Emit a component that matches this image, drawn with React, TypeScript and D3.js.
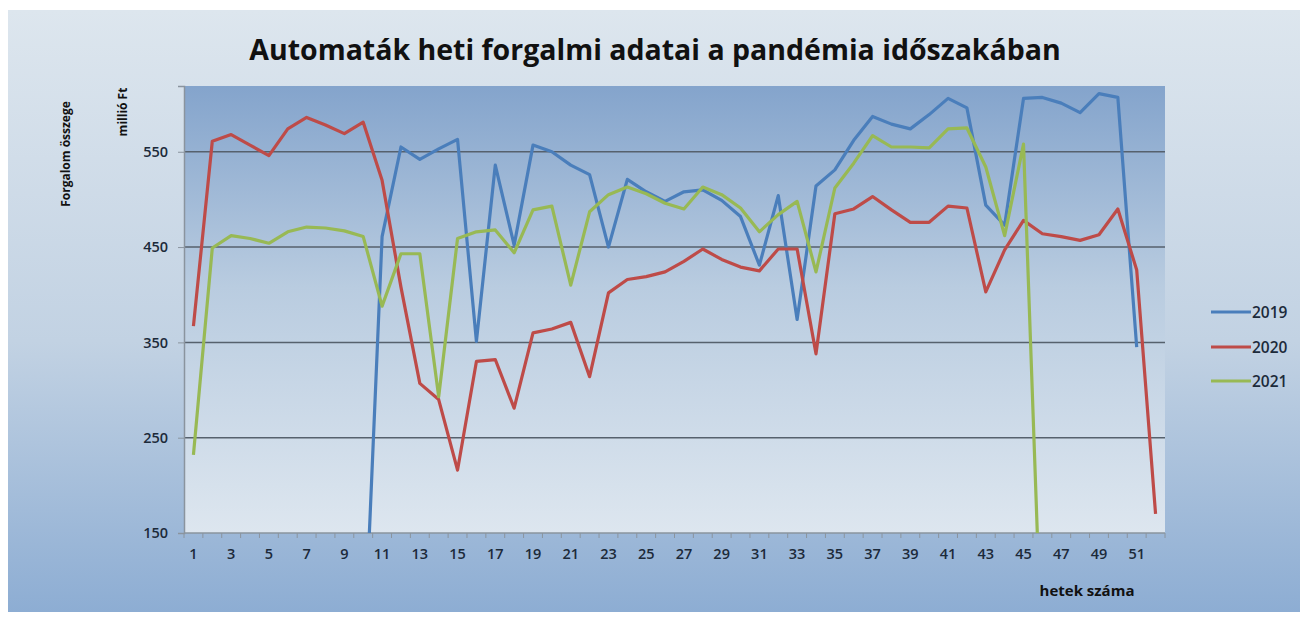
import React, { useEffect, useRef } from 'react';
import * as d3 from 'd3';

// hetek (weeks) 1..52
const weeks = d3.range(1, 53);

const series2019 = [
  null, null, null, null, null, null, null, null, null, 0,
  461, 555, 542, 553, 563, 351, 536, 452, 557, 550,
  536, 526, 450, 521, 508, 498, 508, 510, 499, 482,
  431, 504, 374, 514, 531, 562, 587, 579, 574, 589,
  606, 596, 494, 473, 606, 607, 601, 591, 611, 607,
  345, null
];

const series2020 = [
  367, 561, 568, 557, 546, 574, 586, 578, 569, 581,
  520, 408, 307, 290, 216, 330, 332, 281, 360, 364,
  371, 314, 402, 416, 419, 424, 435, 448, 437, 429,
  425, 448, 448, 338, 485, 490, 503, 489, 476, 476,
  493, 491, 403, 447, 478, 464, 461, 457, 463, 490,
  426, 170
];

const series2021 = [
  232, 449, 462, 459, 454, 466, 471, 470, 467, 461,
  388, 443, 443, 293, 459, 466, 468, 444, 489, 493,
  410, 487, 505, 513, 506, 496, 490, 513, 505, 491,
  466, 484, 498, 424, 512, 538, 567, 555, 555, 554,
  574, 575, 534, 462, 558, 0, null, null, null, null,
  null, null
];

const seriesNames = ['2019', '2020', '2021'];
const seriesColors = ['#4a7ebb', '#be4b48', '#98b954'];
const yTicks = [150, 250, 350, 450, 550];

const FONT = '"Open Sans", "Liberation Sans", sans-serif';

const App = () => {
  const svgRef = useRef(null);

  useEffect(() => {
    const svg = d3.select(svgRef.current);
    svg.selectAll('*').remove();

    const W = 1308, H = 617;
    const plot = { left: 184, right: 1165, top: 86, bottom: 533 };

    const defs = svg.append('defs');
    const bg = defs.append('linearGradient').attr('id', 'bgGrad')
      .attr('x1', 0).attr('y1', 0).attr('x2', 0).attr('y2', 1);
    bg.append('stop').attr('offset', '0%').attr('stop-color', '#dde6ee');
    bg.append('stop').attr('offset', '55%').attr('stop-color', '#c2d2e3');
    bg.append('stop').attr('offset', '100%').attr('stop-color', '#8dadd3');

    const pg = defs.append('linearGradient').attr('id', 'plotGrad')
      .attr('x1', 0).attr('y1', 0).attr('x2', 0).attr('y2', 1);
    pg.append('stop').attr('offset', '0%').attr('stop-color', '#84a4cc');
    pg.append('stop').attr('offset', '45%').attr('stop-color', '#b9cce0');
    pg.append('stop').attr('offset', '100%').attr('stop-color', '#dde6ef');

    defs.append('clipPath').attr('id', 'plotClip')
      .append('rect')
      .attr('x', plot.left).attr('y', plot.top)
      .attr('width', plot.right - plot.left).attr('height', plot.bottom - plot.top);

    // outer chart area
    svg.append('rect').attr('width', W).attr('height', H).attr('fill', '#ffffff');
    svg.append('rect')
      .attr('x', 8).attr('y', 10).attr('width', 1292).attr('height', 602)
      .attr('fill', 'url(#bgGrad)');

    // plot area
    svg.append('rect')
      .attr('x', plot.left).attr('y', plot.top)
      .attr('width', plot.right - plot.left).attr('height', plot.bottom - plot.top)
      .attr('fill', 'url(#plotGrad)');

    const x = d3.scaleBand()
      .domain(weeks.map(String))
      .range([plot.left, plot.right])
      .padding(0);
    const cx = (w) => x(String(w)) + x.bandwidth() / 2;

    const y = d3.scaleLinear()
      .domain([150, 619])
      .range([plot.bottom, plot.top]);

    // gridlines
    svg.append('g')
      .selectAll('line')
      .data(yTicks.slice(1))
      .join('line')
      .attr('x1', plot.left).attr('x2', plot.right)
      .attr('y1', d => y(d)).attr('y2', d => y(d))
      .attr('stroke', '#56616d')
      .attr('stroke-width', 1.5);

    // y axis
    const yAxis = svg.append('g')
      .attr('transform', `translate(${plot.left},0)`)
      .call(d3.axisLeft(y).tickValues(yTicks).tickSize(6).tickPadding(10));
    yAxis.select('.domain').attr('stroke', '#8a949e').attr('stroke-width', 1.5);
    yAxis.selectAll('.tick line').attr('stroke', '#8a949e');
    yAxis.selectAll('text')
      .attr('font-family', FONT)
      .attr('font-size', 14.5)
      .attr('font-weight', 600)
      .attr('fill', '#1c2a3a');

    // x axis: ticks between categories, labels every other week
    const xAxisG = svg.append('g');
    xAxisG.append('line')
      .attr('x1', plot.left).attr('x2', plot.right)
      .attr('y1', plot.bottom).attr('y2', plot.bottom)
      .attr('stroke', '#8a949e').attr('stroke-width', 1.5);
    xAxisG.selectAll('line.tk')
      .data(weeks.concat([53]))
      .join('line')
      .attr('class', 'tk')
      .attr('x1', d => d <= 52 ? x(String(d)) : plot.right)
      .attr('x2', d => d <= 52 ? x(String(d)) : plot.right)
      .attr('y1', plot.bottom).attr('y2', plot.bottom + 5)
      .attr('stroke', '#8a949e');
    xAxisG.selectAll('text')
      .data(weeks.filter(w => w % 2 === 1))
      .join('text')
      .attr('x', d => cx(d))
      .attr('y', 559)
      .attr('text-anchor', 'middle')
      .attr('font-family', FONT)
      .attr('font-size', 14.5)
      .attr('font-weight', 600)
      .attr('fill', '#1c2a3a')
      .text(d => d);

    // lines
    const allSeries = [series2019, series2020, series2021];
    const line = d3.line()
      .defined(d => d.v != null)
      .x(d => cx(d.w))
      .y(d => y(d.v));
    svg.append('g')
      .attr('clip-path', 'url(#plotClip)')
      .selectAll('path')
      .data(allSeries)
      .join('path')
      .attr('d', s => line(s.map((v, i) => ({ w: weeks[i], v }))))
      .attr('fill', 'none')
      .attr('stroke', (d, i) => seriesColors[i])
      .attr('stroke-width', 3.2)
      .attr('stroke-linejoin', 'round');

    // title
    svg.append('text')
      .attr('x', 655).attr('y', 60)
      .attr('text-anchor', 'middle')
      .attr('font-family', FONT)
      .attr('font-size', 28.5)
      .attr('font-weight', 700)
      .attr('fill', '#111')
      .text('Automaták heti forgalmi adatai a pandémia időszakában');

    // axis titles
    svg.append('text')
      .attr('transform', 'translate(70,154) rotate(-90)')
      .attr('text-anchor', 'middle')
      .attr('font-family', FONT)
      .attr('font-size', 12)
      .attr('font-weight', 700)
      .attr('fill', '#111')
      .text('Forgalom összege');
    svg.append('text')
      .attr('transform', 'translate(127,112) rotate(-90)')
      .attr('text-anchor', 'middle')
      .attr('font-family', FONT)
      .attr('font-size', 12)
      .attr('font-weight', 700)
      .attr('fill', '#111')
      .text('millió Ft');
    svg.append('text')
      .attr('x', 1087).attr('y', 596)
      .attr('text-anchor', 'middle')
      .attr('font-family', FONT)
      .attr('font-size', 15)
      .attr('font-weight', 700)
      .attr('fill', '#111')
      .text('hetek száma');

    // legend
    const legend = svg.append('g');
    const legY = [312, 347, 381];
    seriesNames.forEach((name, i) => {
      legend.append('line')
        .attr('x1', 1211).attr('x2', 1251)
        .attr('y1', legY[i]).attr('y2', legY[i])
        .attr('stroke', seriesColors[i]).attr('stroke-width', 3.2);
      legend.append('text')
        .attr('x', 1252).attr('y', legY[i] + 5.5)
        .attr('font-family', FONT)
        .attr('font-size', 15.5)
        .attr('font-weight', 600)
        .attr('fill', '#1c2a3a')
        .text(name);
    });
  }, []);

  return (
    <div style={{ position: 'absolute', left: 0, top: 0 }}>
      <svg ref={svgRef} width={1308} height={617} style={{ display: 'block' }} />
    </div>
  );
};

export default App;
